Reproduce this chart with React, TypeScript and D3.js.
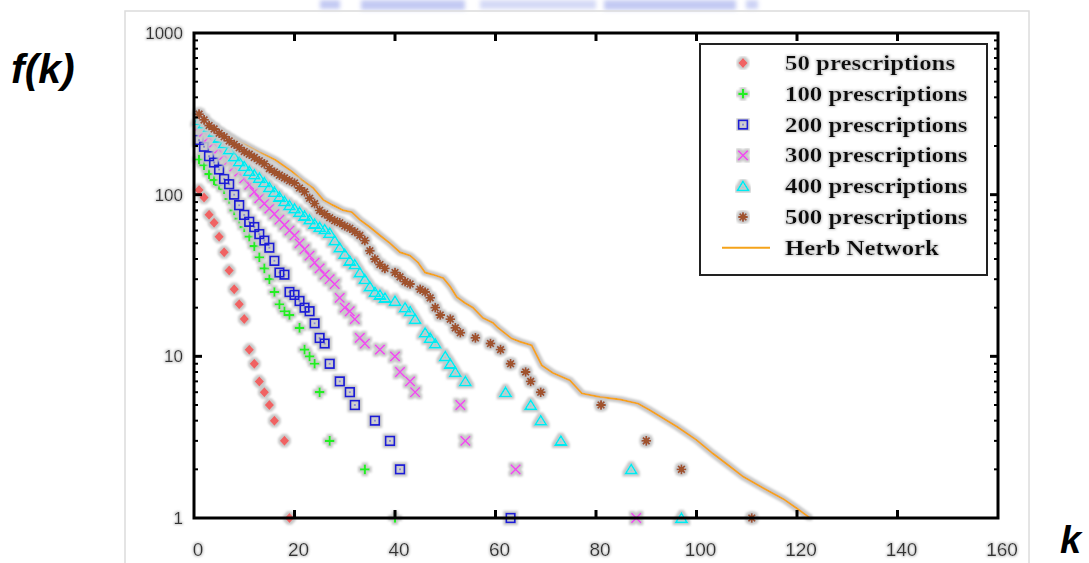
import React from "react";
import * as d3 from "d3";

// ---------- data ----------
const xTicks = [0, 20, 40, 60, 80, 100, 120, 140, 160];
const yTicks = [1, 10, 100, 1000];

const k50 = [1, 2, 3, 4, 5, 6, 7, 8, 9, 10, 11, 12, 13, 14, 15, 16, 18, 19];
const f50 = [107, 96, 75, 67, 55, 44, 34, 26, 21, 17, 11, 9, 7, 6, 5, 4, 3, 1];

const k100 = [1, 2, 3, 4, 5, 6, 7, 8, 9, 10, 11, 12, 13, 14, 15, 16, 17, 18, 19, 21, 22, 23, 24, 25, 27, 34, 40];
const f100 = [165, 152, 134, 123, 115, 108, 94, 80, 71, 63, 55, 48, 41, 35, 30, 25, 21, 19, 18, 15, 11, 10, 9, 6, 3, 2, 1];

const k200 = [1, 2, 3, 4, 5, 6, 7, 8, 9, 10, 11, 12, 13, 14, 15, 16, 17, 18, 19, 20, 21, 22, 23, 24, 25, 26, 27, 29, 31, 32, 36, 39, 41, 63];
const f200 = [218, 198, 173, 158, 143, 125, 116, 100, 86, 75, 68, 63, 57, 52, 47, 39, 33, 32, 25, 24, 22, 20, 19, 16, 13, 12, 9, 7, 6, 5, 4, 3, 2, 1];

const k300 = [1, 2, 3, 4, 5, 6, 7, 8, 9, 10, 11, 12, 13, 14, 15, 16, 17, 18, 19, 20, 21, 22, 23, 24, 25, 26, 27, 28, 29, 30, 31, 32, 33, 34, 37, 40, 41, 43, 44, 53, 54, 64, 88];
const f300 = [265, 245, 228, 210, 193, 176, 164, 149, 139, 126, 115, 104, 95, 88, 82, 76, 70, 65, 60, 56, 50, 46, 42, 38, 35, 32, 30, 28, 23, 20, 19, 17, 13, 12, 11, 10, 8, 7, 6, 5, 3, 2, 1];

const k400 = [1, 2, 3, 4, 5, 6, 7, 8, 9, 10, 11, 12, 13, 14, 15, 16, 17, 18, 19, 20, 21, 22, 23, 24, 25, 26, 27, 28, 29, 30, 31, 32, 33, 34, 35, 36, 37, 38, 40, 42, 43, 44, 46, 47, 48, 50, 51, 52, 54, 62, 67, 69, 73, 87, 97];
const f400 = [289, 275, 262, 245, 225, 208, 190, 172, 160, 150, 140, 133, 127, 119, 111, 104, 97, 91, 86, 82, 78, 74, 70, 66, 63, 61, 58, 52, 47, 43, 39, 37, 33, 30, 27, 25, 24, 23, 22, 20, 19, 17, 14, 13, 12, 10, 9, 8, 7, 6, 5, 4, 3, 2, 1];

const k500 = [1, 2, 3, 4, 5, 6, 7, 8, 9, 10, 11, 12, 13, 14, 15, 16, 17, 18, 19, 20, 21, 22, 23, 24, 25, 26, 27, 28, 29, 30, 31, 32, 33, 34, 35, 36, 37, 38, 40, 41, 42, 43, 45, 46, 47, 48, 49, 51, 52, 53, 56, 59, 61, 63, 66, 67, 69, 81, 90, 97, 111];
const f500 = [315, 290, 268, 255, 240, 228, 215, 205, 195, 185, 178, 170, 162, 155, 145, 138, 132, 127, 122, 118, 110, 104, 95, 88, 80, 76, 72, 69, 67, 64, 62, 59, 56, 52, 45, 40, 37, 35, 33, 31, 29, 28, 26, 25, 23, 20, 18, 17, 15, 14, 13, 12, 11, 9, 8, 7, 6, 5, 3, 2, 1];

const kHerb = [1, 3.6, 6.2, 9.6, 12.9, 16.2, 19.5, 21.5, 23.7, 25.7, 27.7, 29.7, 31.4, 33, 35, 37, 39, 41, 43, 44.6, 46, 47.6, 49.6, 51, 52.3, 53.9, 55.5, 57.5, 59.5, 60.5, 63.2, 64.9, 67.2, 69.2, 71.4, 74.8, 77.2, 80.8, 84.8, 88.4, 90.7, 96.1, 100, 103.3, 106.7, 109.3, 113.3, 117.3, 119.9, 122.6];
const fHerb = [318, 269, 239, 208, 184, 164, 139, 123, 110, 93, 86, 80, 78, 70, 63, 56, 50, 44, 42, 38, 33, 32, 30.5, 27, 23.3, 21.4, 20, 17.3, 16.1, 15, 12.9, 12.3, 11.7, 8.8, 7.9, 7.1, 5.9, 5.6, 5.4, 5.1, 4.65, 3.67, 3.04, 2.5, 2.08, 1.8, 1.53, 1.31, 1.15, 1];

const seriesNames = ["50 prescriptions", "100 prescriptions", "200 prescriptions", "300 prescriptions", "400 prescriptions", "500 prescriptions"];
const lineName = "Herb Network";

// ---------- styles ----------
const COLORS = ["#f06262", "#22ee22", "#1c1cd6", "#ee50ee", "#00eaf0", "#a0522d"];
const SHAPES = ["diamond", "plus", "square", "cross", "triangle", "star"];
const HERB_COLOR = "#f5a31a";

function Marker({ shape, color }: { shape: string; color: string }) {
  switch (shape) {
    case "diamond":
      return <path d="M0,-5L4.6,0L0,5L-4.6,0Z" fill={color} />;
    case "plus":
      return <path d="M-4.8,0H4.8M0,-4.8V4.8" stroke={color} strokeWidth={2.2} fill="none" />;
    case "square":
      return (
        <g>
          <rect x={-4.3} y={-4.3} width={8.6} height={8.6} fill="none" stroke={color} strokeWidth={1.9} />
          <rect x={-1} y={-1} width={2} height={2} fill={color} opacity={0.6} />
        </g>
      );
    case "cross":
      return <path d="M-4.8,-4.8L4.8,4.8M-4.8,4.8L4.8,-4.8" stroke={color} strokeWidth={1.7} fill="none" />;
    case "triangle":
      return (
        <g>
          <path d="M0,-4.8L5.5,4.2L-5.5,4.2Z" fill="none" stroke={color} strokeWidth={1.9} />
          <circle cx={0} cy={1} r={1} fill={color} opacity={0.6} />
        </g>
      );
    case "star":
      return (
        <g stroke={color} strokeWidth={1.9}>
          <path d="M-4.8,0H4.8M0,-4.8V4.8M-3.4,-3.4L3.4,3.4M-3.4,3.4L3.4,-3.4" />
          <circle r={2.4} fill={color} stroke="none" />
        </g>
      );
  }
  return null;
}

export default function App() {
  const W = 1089, H = 563;
  const x = d3.scaleLinear().domain([0, 160]).range([194, 998]);
  const y = d3.scaleLog().domain([1, 1000]).range([518, 33]);

  const seriesK = [k50, k100, k200, k300, k400, k500];
  const seriesF = [f50, f100, f200, f300, f400, f500];

  const herbPts: [number, number][] = kHerb.map((k, i) => [k, fHerb[i]]);
  const lineGen = d3.line<[number, number]>().x(d => x(d[0])).y(d => y(d[1]));

  const minorTicks: number[] = [];
  [1, 10, 100].forEach(dec => {
    for (let m = 2; m <= 9; m++) minorTicks.push(dec * m);
  });

  const [x0, x1] = x.range();
  const [yb, yt] = y.range();

  const legendX = 700, legendY = 44, legendW = 287, legendH = 231;
  const rowY = (i: number) => 63 + i * 30.8;

  return (
    <svg width={W} height={H} style={{ position: "absolute", left: 0, top: 0, background: "#fff" }}>
      <defs>
        <filter id="halo" x="-20%" y="-20%" width="140%" height="140%">
          <feMorphology in="SourceAlpha" operator="dilate" radius="1.8" result="d" />
          <feGaussianBlur in="d" stdDeviation="1" result="b" />
          <feFlood floodColor="#c8c8c8" />
          <feComposite in2="b" operator="in" result="s" />
          <feMerge>
            <feMergeNode in="s" />
            <feMergeNode in="SourceGraphic" />
          </feMerge>
        </filter>
        <filter id="soft" x="-10%" y="-30%" width="120%" height="160%">
          <feMorphology in="SourceAlpha" operator="dilate" radius="0.8" result="d" />
          <feGaussianBlur in="d" stdDeviation="0.8" result="b" />
          <feFlood floodColor="#d0d0d0" />
          <feComposite in2="b" operator="in" result="s" />
          <feMerge>
            <feMergeNode in="s" />
            <feMergeNode in="SourceGraphic" />
          </feMerge>
        </filter>
        <filter id="blur" x="-20%" y="-100%" width="140%" height="300%">
          <feGaussianBlur stdDeviation="2.2" />
        </filter>
      </defs>

      {/* blurry header remnants */}
      <g filter="url(#blur)" fill="#aab4ee">
        <rect x={320} y={0} width={20} height={9} opacity={0.7} />
        <rect x={361} y={0} width={104} height={10} opacity={0.7} />
        <rect x={480} y={0} width={116} height={9} opacity={0.5} />
        <rect x={604} y={0} width={132} height={10} opacity={0.7} />
        <rect x={746} y={0} width={12} height={9} opacity={0.6} />
      </g>

      {/* image border */}
      <rect x={125} y={11} width={904} height={560} fill="none" stroke="#dcdcdc" strokeWidth={1.5} />

      {/* big axis titles */}
      <text x={11} y={83} fontFamily="Liberation Sans, Arial, sans-serif" fontWeight="bold" fontStyle="italic" fontSize={41}>
        f(k)
      </text>
      <text x={1060} y={553} fontFamily="Liberation Sans, Arial, sans-serif" fontWeight="bold" fontStyle="italic" fontSize={38}>
        k
      </text>

      {/* tick labels */}
      <g filter="url(#soft)" fill="#333" fontFamily="Liberation Sans, Arial, sans-serif">
        {yTicks.map(t => (
          <text key={"yl" + t} x={183} y={y(t) + 6} textAnchor="end" fontSize={17}>
            {t}
          </text>
        ))}
        {xTicks.map(t => (
          <text key={"xl" + t} x={x(t) + 4} y={556} textAnchor="middle" fontSize={19}>
            {t}
          </text>
        ))}
      </g>

      {/* herb network line */}
      <g filter="url(#halo)">
        <path d={lineGen(herbPts) || ""} fill="none" stroke={HERB_COLOR} strokeWidth={2} />
      </g>

      {/* scatter series */}
      {seriesK.map((ks, si) => (
        <g key={"s" + si} filter="url(#halo)">
          {ks.map((k, i) => (
            <g key={i} transform={`translate(${x(k)},${y(seriesF[si][i])})`}>
              <Marker shape={SHAPES[si]} color={COLORS[si]} />
            </g>
          ))}
        </g>
      ))}

      {/* frame and ticks */}
      <g stroke="#000" fill="none">
        <rect x={x0} y={yt} width={x1 - x0} height={yb - yt} strokeWidth={3} />
        {xTicks.slice(1, -1).map(t => (
          <g key={"xt" + t} strokeWidth={3}>
            <line x1={x(t)} x2={x(t)} y1={yb} y2={yb - 8} />
            <line x1={x(t)} x2={x(t)} y1={yt} y2={yt + 8} />
          </g>
        ))}
        {[10, 100].map(t => (
          <g key={"ymt" + t} strokeWidth={3}>
            <line x1={x0} x2={x0 + 8} y1={y(t)} y2={y(t)} />
            <line x1={x1} x2={x1 - 8} y1={y(t)} y2={y(t)} />
          </g>
        ))}
        {minorTicks.map(t => (
          <g key={"ymn" + t} strokeWidth={2}>
            <line x1={x0} x2={x0 + 4} y1={y(t)} y2={y(t)} />
            <line x1={x1} x2={x1 - 4} y1={y(t)} y2={y(t)} />
          </g>
        ))}
      </g>

      {/* legend */}
      <g>
        <rect x={legendX} y={legendY} width={legendW} height={legendH} fill="#fff" stroke="#222" strokeWidth={2} />
        {seriesNames.map((name, i) => (
          <g key={"lg" + i}>
            <g filter="url(#halo)" transform={`translate(743,${rowY(i)})`}>
              <Marker shape={SHAPES[i]} color={COLORS[i]} />
            </g>
            <text
              filter="url(#soft)"
              transform={`translate(785,${rowY(i) + 7}) scale(1.13,1)`}
              fontFamily="Liberation Serif, Times New Roman, serif"
              fontWeight="bold"
              fontSize={22}
              fill="#111"
            >
              {name}
            </text>
          </g>
        ))}
        <line x1={722} x2={770} y1={rowY(6)} y2={rowY(6)} stroke={HERB_COLOR} strokeWidth={2} />
        <text
          filter="url(#soft)"
          transform={`translate(785,${rowY(6) + 7}) scale(1.13,1)`}
          fontFamily="Liberation Serif, Times New Roman, serif"
          fontWeight="bold"
          fontSize={22}
          fill="#111"
        >
          {lineName}
        </text>
      </g>
    </svg>
  );
}
